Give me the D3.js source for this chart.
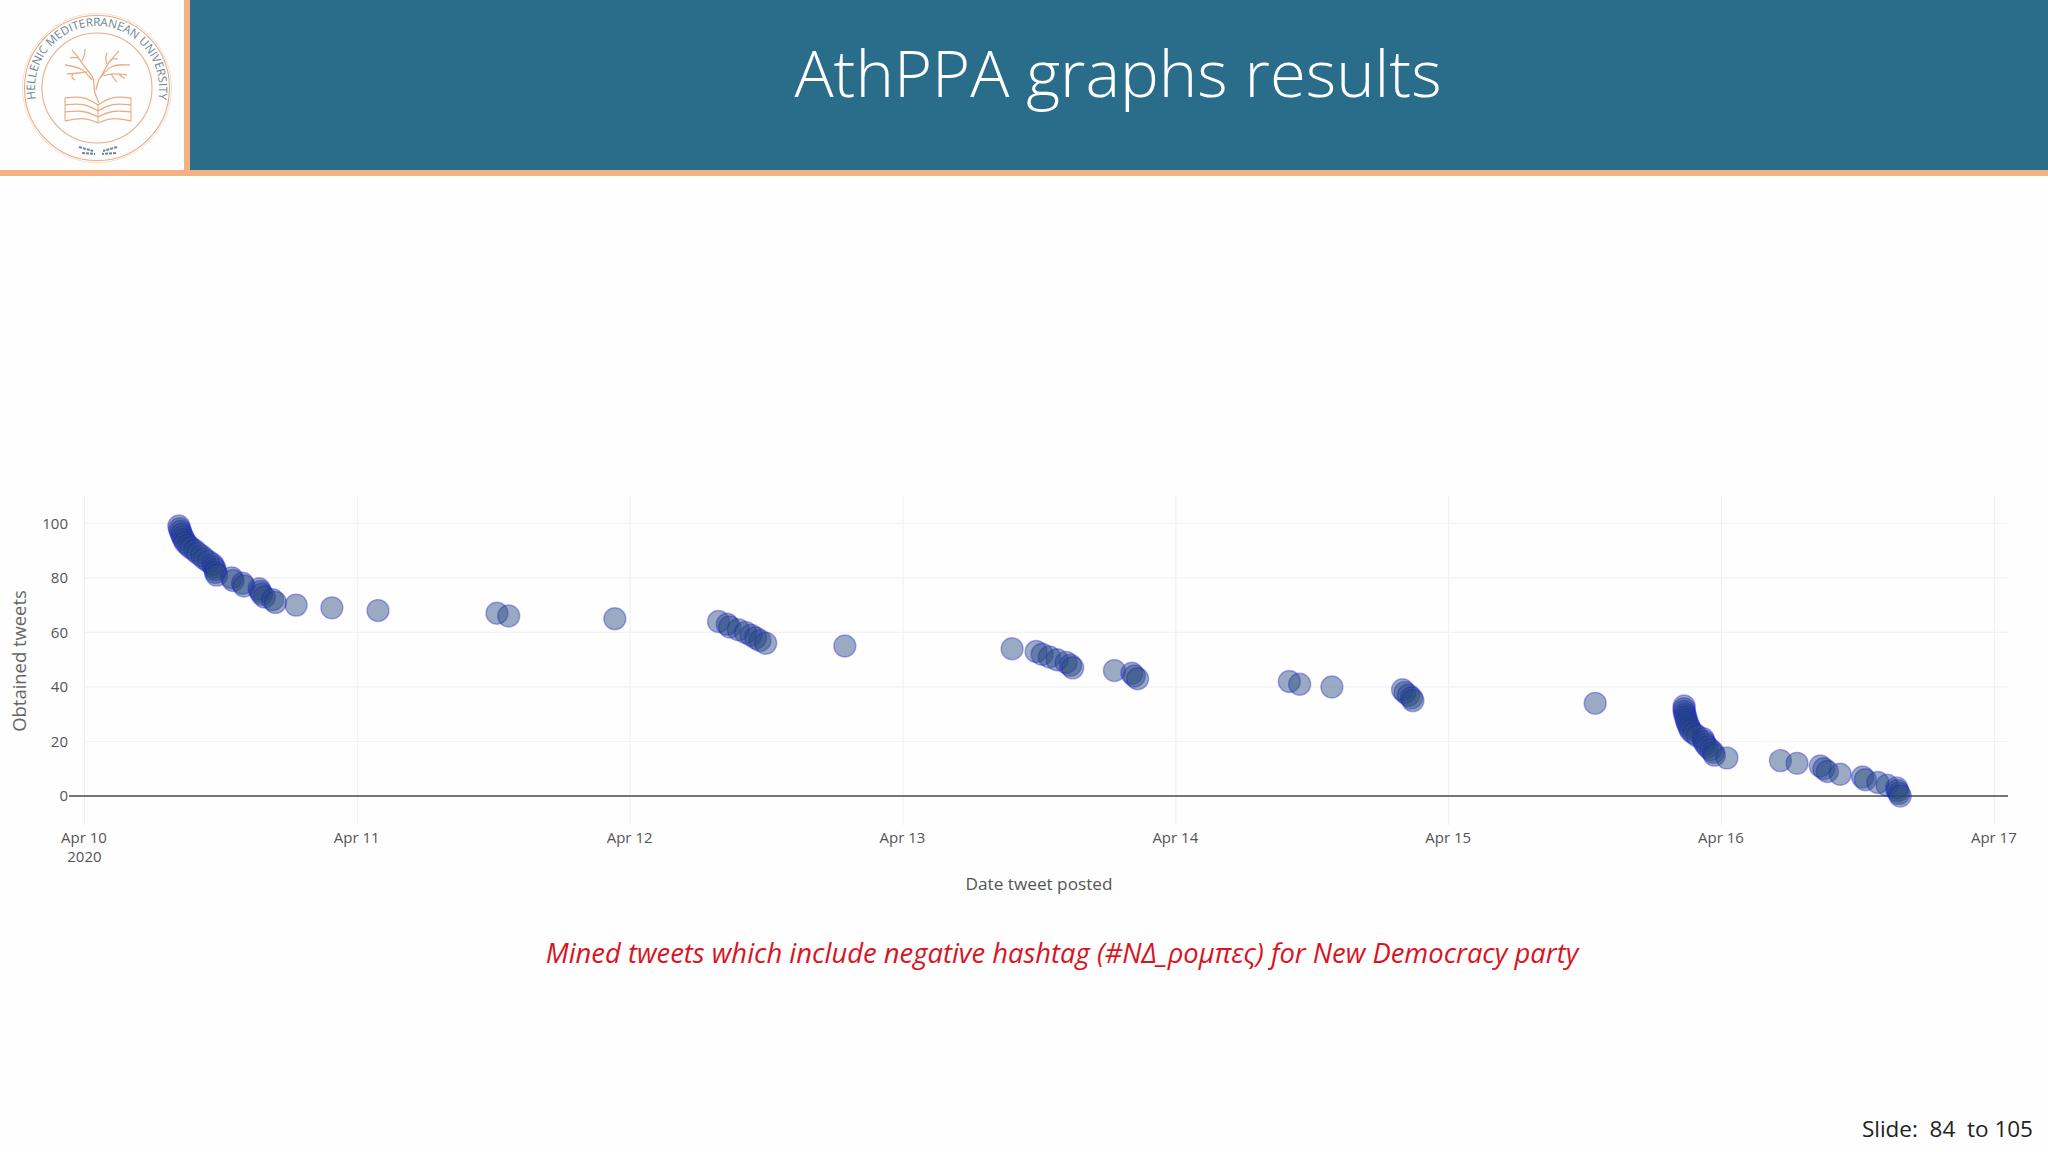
<!DOCTYPE html>
<html>
<head>
<meta charset="utf-8">
<script src="https://cdn.jsdelivr.net/npm/d3@7"></script>
<style>
  html, body { margin: 0; padding: 0; background: #fff; }
  svg { display: block; }
</style>
</head>
<body>
<div id="slide"></div>
<script>
// chart data
var startDate = "2020-04-10";
// days after Apr 10 that each tweet was posted
var tweetDays = [
  0.346, 0.349, 0.352, 0.356, 0.360, 0.365, 0.370, 0.380, 0.390, 0.405,
  0.415, 0.430, 0.440, 0.455, 0.470, 0.475, 0.480, 0.480, 0.485, 0.540,
  0.545, 0.580, 0.585, 0.640, 0.645, 0.650, 0.660, 0.690, 0.700, 0.776,
  0.907, 1.076, 1.512, 1.555, 1.944, 2.324, 2.356, 2.365, 2.397, 2.423,
  2.443, 2.460, 2.476, 2.497, 2.787, 3.400, 3.488, 3.510, 3.537, 3.565,
  3.598, 3.614, 3.622, 3.775, 3.839, 3.848, 3.860, 4.416, 4.454, 4.572,
  4.831, 4.840, 4.853, 4.864, 4.869, 5.537, 5.863, 5.863, 5.863, 5.866,
  5.869, 5.871, 5.874, 5.879, 5.882, 5.887, 5.898, 5.911, 5.933, 5.936,
  5.941, 5.949, 5.960, 5.970, 5.974, 6.020, 6.216, 6.277, 6.362, 6.375,
  6.388, 6.435, 6.517, 6.527, 6.573, 6.607, 6.642, 6.645, 6.650, 6.655
];
var obtainedTweets = [
  99, 98, 97, 96, 95, 94, 93, 92, 91, 90,
  89, 88, 87, 86, 85, 84, 83, 82, 81, 80,
  79, 78, 77, 76, 75, 74, 73, 72, 71, 70,
  69, 68, 67, 66, 65, 64, 63, 62, 61, 60,
  59, 58, 57, 56, 55, 54, 53, 52, 51, 50,
  49, 48, 47, 46, 45, 44, 43, 42, 41, 40,
  39, 38, 37, 36, 35, 34, 33, 32, 31, 30,
  29, 28, 27, 26, 25, 24, 23, 22, 21, 20,
  19, 18, 17, 16, 15, 14, 13, 12, 11, 10,
  9, 8, 7, 6, 5, 4, 3, 2, 1, 0
];
var xTickDays = [0, 1, 2, 3, 4, 5, 6, 7];
var xTickLabels = ["Apr 10", "Apr 11", "Apr 12", "Apr 13", "Apr 14", "Apr 15", "Apr 16", "Apr 17"];
var yTicks = [0, 20, 40, 60, 80, 100];

var W = 2048, H = 1152;
var dayMs = 86400000;
var start = new Date(startDate + "T00:00:00Z").getTime();
function toDate(d) { return new Date(start + d * dayMs); }

var svg = d3.select("#slide").append("svg")
  .attr("width", W)
  .attr("height", H)
  .style("font-family", "'Open Sans', sans-serif");

// header band
svg.append("rect").attr("width", W).attr("height", H).attr("fill", "#fefefe");
svg.append("rect").attr("x", 190).attr("y", 0).attr("width", W - 190).attr("height", 170).attr("fill", "#2a6d8a");
svg.append("rect").attr("x", 184).attr("y", 0).attr("width", 6).attr("height", 170).attr("fill", "#f4b183");
svg.append("rect").attr("x", 0).attr("y", 170).attr("width", W).attr("height", 6).attr("fill", "#f4b183");

svg.append("text")
  .attr("x", 1118).attr("y", 97)
  .attr("text-anchor", "middle")
  .attr("font-size", 65.2)
  .attr("font-weight", 300)
  .attr("fill", "#fff")
  .text("AthPPA graphs results");

// logo
var logo = svg.append("g").attr("transform", "translate(97,88)");
logo.append("circle").attr("r", 74.5).attr("fill", "none").attr("stroke", "#f8e0cf").attr("stroke-width", 1);
logo.append("circle").attr("r", 72.5).attr("fill", "none").attr("stroke", "#e9ad85").attr("stroke-width", 1.1);
logo.append("circle").attr("r", 55).attr("fill", "none").attr("stroke", "#e9ad85").attr("stroke-width", 1.1);
logo.append("defs").append("path").attr("id", "logoArc")
  .attr("d", "M -58 22 A 62 62 0 1 1 58 22");
logo.append("text")
  .attr("font-size", 11.6)
  .attr("fill", "#6f8494")
  .append("textPath")
  .attr("href", "#logoArc")
  .attr("startOffset", "50%")
  .attr("text-anchor", "middle")
  .text("HELLENIC MEDITERRANEAN UNIVERSITY");

var logoLine = d3.line().curve(d3.curveBasis);
var logoStrokes = [
  // trunk and main branches
  [[2, 15], [-4, 2], [-2, -10], [-12, -20], [-18, -30], [-25, -38]],
  [[-1, 2], [1, -8], [6, -14], [10, -24], [22, -37]],
  // side branches
  [[-5, -8], [-14, -20], [-32, -23]],
  [[-10, -16], [-18, -15], [-30, -14]],
  [[3, -10], [14, -24], [33, -23]],
  [[6, -12], [16, -15], [30, -13]],
  // leaves
  [[-18, -30], [-24, -31], [-27, -30]],
  [[-15, -27], [-12, -34], [-12, -39]],
  [[-24, -15], [-26, -10], [-22, -8]],
  [[12, -26], [16, -30], [21, -29]],
  [[10, -24], [8, -30], [10, -35]],
  [[22, -14], [26, -10], [28, -10]],
  [[14, -14], [18, -8], [20, -6]],
  // book pages
  [[1, 17], [-13, 8], [-32, 10]], [[1, 17], [15, 8], [34, 10]],
  [[1, 23], [-13, 15], [-32, 17]], [[1, 23], [15, 15], [34, 17]],
  [[1, 29], [-13, 22], [-32, 24]], [[1, 29], [15, 22], [34, 24]],
  [[1, 35], [-13, 29], [-32, 33]], [[1, 35], [15, 29], [34, 33]]
];
logo.selectAll("path.stroke").data(logoStrokes).enter().append("path")
  .attr("class", "stroke")
  .attr("d", logoLine)
  .attr("fill", "none")
  .attr("stroke", "#e9ad85")
  .attr("stroke-width", 1.3);
logo.append("path").attr("d", "M -32 10 V 33 M 34 10 V 33 M 1 17 V 35").attr("stroke", "#e9ad85").attr("stroke-width", 1.1).attr("fill", "none");
logo.append("path").attr("d", "M -18 59 L -4 63 M -15 65 L -2 66 M 20 59 L 6 63 M 19 65 L 5 66")
  .attr("stroke", "#6f8494").attr("stroke-width", 2).attr("stroke-dasharray", "3 1").attr("fill", "none");

// scatter chart
var x = d3.scaleUtc()
  .domain([toDate(-0.0037), toDate(7.05)])
  .range([83.4, 2008]);
var y = d3.scaleLinear()
  .domain([-10.6, 110])
  .range([825, 496]);

var grid = svg.append("g");
grid.selectAll("line.vgrid").data(xTickDays).enter().append("line")
  .attr("class", "vgrid")
  .attr("x1", function(d) { return x(toDate(d)); })
  .attr("x2", function(d) { return x(toDate(d)); })
  .attr("y1", 496).attr("y2", 825)
  .attr("stroke", "#eeedf4").attr("stroke-width", 1);
grid.selectAll("line.hgrid").data(yTicks.filter(function(d) { return d != 0; })).enter().append("line")
  .attr("class", "hgrid")
  .attr("x1", 84).attr("x2", 2008)
  .attr("y1", function(d) { return y(d); })
  .attr("y2", function(d) { return y(d); })
  .attr("stroke", "#f2f1f7").attr("stroke-width", 1.2);
svg.append("line")
  .attr("x1", 69).attr("x2", 2008)
  .attr("y1", y(0)).attr("y2", y(0))
  .attr("stroke", "#48484c").attr("stroke-width", 1.5);

var yAxis = d3.axisLeft(y).tickValues(yTicks).tickSize(0).tickPadding(0);
var yAxisG = svg.append("g").attr("transform", "translate(68,0)").call(yAxis);
yAxisG.select(".domain").remove();
yAxisG.selectAll("text")
  .attr("font-family", "'Open Sans', sans-serif")
  .attr("font-size", 15)
  .attr("fill", "#555");

var xAxis = d3.axisBottom(x)
  .tickValues(xTickDays.map(toDate))
  .tickSize(0)
  .tickPadding(0)
  .tickFormat(function(d, i) { return xTickLabels[i]; });
var xAxisG = svg.append("g").attr("transform", "translate(-1,832)").call(xAxis);
xAxisG.select(".domain").remove();
xAxisG.selectAll("text")
  .attr("font-family", "'Open Sans', sans-serif")
  .attr("font-size", 15)
  .attr("fill", "#555");

svg.append("text")
  .attr("x", x(toDate(0))).attr("y", 862)
  .attr("text-anchor", "middle")
  .attr("font-size", 15).attr("fill", "#555")
  .text("2020");
svg.append("text")
  .attr("x", 1039).attr("y", 890)
  .attr("text-anchor", "middle")
  .attr("font-size", 17.2).attr("fill", "#555")
  .text("Date tweet posted");
svg.append("text")
  .attr("transform", "translate(26,661) rotate(-90)")
  .attr("text-anchor", "middle")
  .attr("font-size", 18.4).attr("fill", "#666")
  .text("Obtained tweets");

svg.append("g").selectAll("circle")
  .data(tweetDays)
  .enter()
  .append("circle")
  .attr("cx", function(d) { return x(toDate(d)); })
  .attr("cy", function(d, i) { return y(obtainedTweets[i]); })
  .attr("r", 11)
  .attr("fill", "#24497f")
  .attr("fill-opacity", 0.46)
  .attr("stroke", "#1a1ae0")
  .attr("stroke-opacity", 0.34)
  .attr("stroke-width", 1.4);

// caption and slide number
svg.append("text")
  .attr("x", 1062).attr("y", 963)
  .attr("text-anchor", "middle")
  .attr("font-size", 27.4)
  .attr("font-style", "italic")
  .attr("fill", "#d8141e")
  .text("Mined tweets which include negative hashtag (#ΝΔ_ρομπες) for New Democracy party");
svg.append("text")
  .attr("x", 2033).attr("y", 1137)
  .attr("text-anchor", "end")
  .attr("font-size", 22.5)
  .attr("fill", "#222")
  .attr("xml:space", "preserve")
  .text("Slide:  84  to 105");
</script>
</body>
</html>
